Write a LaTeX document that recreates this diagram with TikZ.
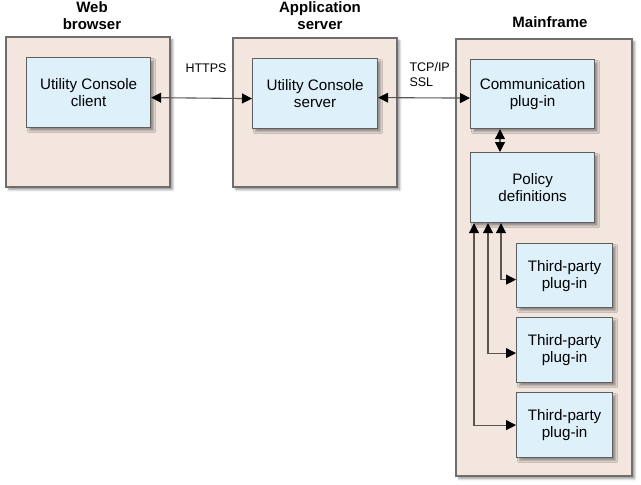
\documentclass[tikz,border=0pt]{standalone}
\usepackage{fontspec}
\setmainfont{Liberation Sans}
\usetikzlibrary{arrows.meta,shadows.blur}
\definecolor{outerfill}{HTML}{F3E6DF}
\definecolor{outerdraw}{HTML}{6E6E6E}
\definecolor{innerfill}{HTML}{DEF1FB}
\definecolor{innerdraw}{HTML}{5E5E5E}
\definecolor{linecol}{HTML}{5A5550}
\tikzset{
  outerbox/.style={draw=outerdraw, fill=outerfill, line width=1.5pt, inner sep=0pt, anchor=north west,
    blur shadow={shadow xshift=3pt, shadow yshift=-3pt, shadow blur steps=6, shadow opacity=40}},
  innerbox/.style={draw=innerdraw, fill=innerfill, line width=1.2pt, inner sep=0pt, anchor=north west,
    align=center, font=\fontsize{15.2}{17}\selectfont,
    blur shadow={shadow xshift=3pt, shadow yshift=-3pt, shadow blur steps=6, shadow opacity=40}},
  title/.style={align=center, font=\fontsize{15}{17}\selectfont\bfseries},
  lbl/.style={align=left, font=\fontsize{12.5}{15}\selectfont},
  conn/.style={draw=linecol, line width=1.1pt, {Triangle[length=10pt,width=10pt,fill=black,color=black]}-{Triangle[length=10pt,width=10pt,fill=black,color=black]}}
}
\begin{document}
\begin{tikzpicture}[x=1pt,y=-1pt]
\useasboundingbox (0,0) rectangle (641,485);
% outer boxes
\node[outerbox, minimum width=164pt, minimum height=150pt] (wb) at (5,36) {};
\node[outerbox, minimum width=164pt, minimum height=149pt] (as) at (232,37) {};
\node[outerbox, minimum width=176pt, minimum height=437pt] (mf) at (455,38) {};
% titles
\node[title] (twb) at (92,16) {Web\\browser};
\node[title] (tas) at (320,16) {Application\\server};
\node[title] (tmf) at (550,22) {Mainframe};
% inner boxes
\node[innerbox, minimum width=124pt, minimum height=70pt] (client) at (26,57) {Utility Console\\client};
\node[innerbox, minimum width=125pt, minimum height=70pt] (server) at (252,58) {Utility Console\\server};
\node[innerbox, minimum width=124pt, minimum height=69pt] (comm) at (470,59) {Communication\\plug-in};
\node[innerbox, minimum width=124pt, minimum height=70pt] (policy) at (470,152) {Policy\\definitions};
\node[innerbox, minimum width=96pt, minimum height=64pt] (tp1) at (516,243) {Third-party\\plug-in};
\node[innerbox, minimum width=96pt, minimum height=65pt] (tp2) at (516,317) {Third-party\\plug-in};
\node[innerbox, minimum width=96pt, minimum height=65pt] (tp3) at (516,392) {Third-party\\plug-in};
% labels
\node[lbl] (https) at (206,68) {HTTPS};
\node[lbl, anchor=west] (tcp) at (406,75) {TCP/IP\\SSL};
% helper coordinates
\coordinate (cv) at (500,0);
\coordinate (v1) at (501,0);
\coordinate (v2) at (488,0);
\coordinate (v3) at (474,0);
% connectors
\draw[conn] ([yshift=-5pt]client.east) -- ([yshift=-5pt]server.west);
\draw[conn] ([yshift=-4pt]server.east) -- ([yshift=-4pt]comm.west);
\draw[conn] (comm.south -| cv) -- (policy.north -| cv);
\draw[conn] (policy.south -| v1) |- ([yshift=-4pt]tp1.west);
\draw[conn] (policy.south -| v2) |- ([yshift=-3pt]tp2.west);
\draw[conn] (policy.south -| v3) |- (tp3.west);
\end{tikzpicture}
\end{document}
